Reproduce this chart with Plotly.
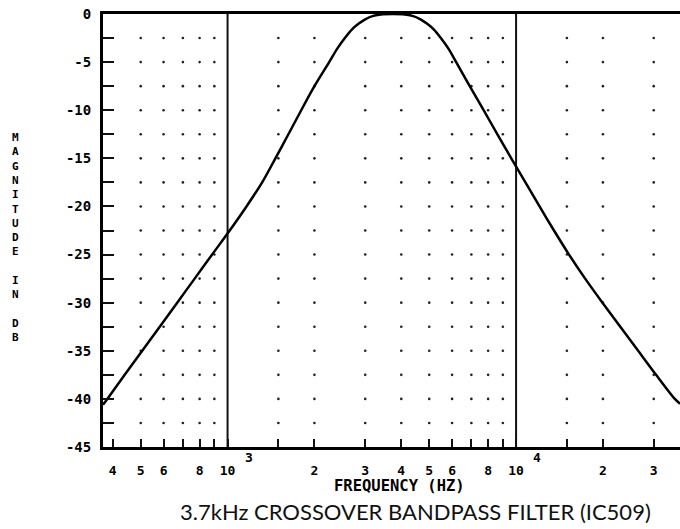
import math
import plotly.graph_objects as go

# ---- data ----
freq_hz = [370, 383, 440, 506, 582, 669, 769, 884, 1017, 1163, 1318, 1465, 1625,
           1800, 2000, 2250, 2400, 2550, 2700, 2850, 3000, 3200, 3450, 3740,
           4054, 4371, 4663, 4908, 5181, 5485, 5828, 6200,
           6909, 7718, 8617, 9625, 10775, 12062, 13534, 15254, 17356, 19926, 22978,
           26500, 30570, 35500, 37000]
mag_db = [-40.6, -40.0, -37.5, -35.0, -32.5, -30.0, -27.5, -25.0, -22.5, -20.0, -17.5,
          -15.0, -12.5, -10.0, -7.5, -5.0, -3.6, -2.5, -1.6, -1.0, -0.55, -0.2, -0.04, 0.0,
          -0.04, -0.2, -0.55, -1.0, -1.6, -2.5, -3.6, -5.0,
          -7.5, -10.0, -12.5, -15.0, -17.5, -20.0, -22.5, -25.0, -27.5, -30.0, -32.5,
          -35.0, -37.5, -40.0, -40.5]

x_tick_vals = [400, 500, 600, 800, 1000, 2000, 3000, 4000, 5000, 6000, 8000, 10000, 20000, 30000]
x_tick_text = ["4", "5", "6", "8", "10", "2", "3", "4", "5", "6", "8", "10", "2", "3"]
x_minor_vals = [700, 900, 1500, 7000, 9000, 15000]
x_dot_cols = [500, 600, 700, 800, 900, 1500, 2000, 3000, 4000, 5000, 6000, 7000, 8000,
              9000, 15000, 20000, 30000]
decade_lines = [1000, 10000]
exponents = ["3", "4"]

y_tick_vals = [0, -5, -10, -15, -20, -25, -30, -35, -40, -45]
y_tick_text = ["0", "-5", "-10", "-15", "-20", "-25", "-30", "-35", "-40", "-45"]
y_minor_vals = [-2.5, -7.5, -12.5, -17.5, -22.5, -27.5, -32.5, -37.5, -42.5]
y_dot_rows = [-2.5 * k for k in range(1, 18)]

x_range_hz = [370, 37000]
y_range = [-45, 0]

MONO = "DejaVu Sans Mono"

fig = go.Figure()

# dotted grid (intersections)
dx, dy = [], []
for yy in y_dot_rows:
    for xx in x_dot_cols:
        dx.append(xx)
        dy.append(yy)
fig.add_trace(go.Scatter(x=dx, y=dy, mode="markers",
                         marker=dict(size=2.6, color="#222"), hoverinfo="skip",
                         showlegend=False))

# decade vertical lines
for d in decade_lines:
    fig.add_trace(go.Scatter(x=[d, d], y=y_range, mode="lines",
                             line=dict(color="#111", width=2), showlegend=False,
                             hoverinfo="skip"))

# response curve
fig.add_trace(go.Scatter(x=freq_hz, y=mag_db, mode="lines",
                         line=dict(color="#000", width=2.5, shape="spline", smoothing=0.8),
                         cliponaxis=False, showlegend=False))

fig.update_layout(
    width=680, height=529,
    margin=dict(l=103, r=0, t=14, b=82),
    paper_bgcolor="white", plot_bgcolor="white",
    xaxis=dict(
        type="log", range=[math.log10(x_range_hz[0]), math.log10(x_range_hz[1])],
        tickmode="array", tickvals=x_tick_vals, ticktext=x_tick_text,
        ticks="inside", ticklen=8, tickwidth=2, tickcolor="#111",
        minor=dict(tickmode="array", tickvals=x_minor_vals, ticks="inside",
                   ticklen=8, tickwidth=2, tickcolor="#111", showgrid=False),
        showgrid=False, zeroline=False,
        showline=True, linecolor="#000", linewidth=2.5, mirror=True,
        tickfont=dict(family=MONO, size=13, color="#000", weight="bold"),
        ticklabelstandoff=10,
    ),
    yaxis=dict(
        range=y_range, tickmode="array", tickvals=y_tick_vals, ticktext=y_tick_text,
        ticks="inside", ticklen=11, tickwidth=2, tickcolor="#111",
        minor=dict(tickmode="array", tickvals=y_minor_vals, ticks="inside",
                   ticklen=11, tickwidth=2, tickcolor="#111", showgrid=False),
        showgrid=False, zeroline=False,
        showline=True, linecolor="#000", linewidth=3, mirror=False,
        tickfont=dict(family=MONO, size=14, color="#000", weight="bold"),
        ticklabelstandoff=6,
    ),
)

annotations = []
for d, e in zip(decade_lines, exponents):
    annotations.append(dict(x=math.log10(d), xref="x", y=-0.025, yref="paper",
                            yanchor="middle", text=e, showarrow=False, xshift=21,
                            font=dict(family=MONO, size=13, color="#000", weight="bold")))
annotations.append(dict(x=0.513, xref="paper", y=-0.09, yref="paper", yanchor="middle",
                        text="FREQUENCY (HZ)", showarrow=False,
                        font=dict(family=MONO, size=15.5, color="#000", weight="bold")))
annotations.append(dict(x=-0.161, xref="paper", y=0.484, yref="paper", yanchor="middle",
                        text="M<br>A<br>G<br>N<br>I<br>T<br>U<br>D<br>E<br> <br>I<br>N<br> <br>D<br>B",
                        showarrow=False, align="center",
                        font=dict(family=MONO, size=11, color="#000", weight="bold")))
annotations.append(dict(x=0.541, xref="paper", y=-0.148, yref="paper", yanchor="middle",
                        text="3.7kHz CROSSOVER BANDPASS FILTER (IC509)", showarrow=False,
                        font=dict(family="Lato", size=22, color="#111")))
fig.update_layout(annotations=annotations)

fig.write_html("out.html")
